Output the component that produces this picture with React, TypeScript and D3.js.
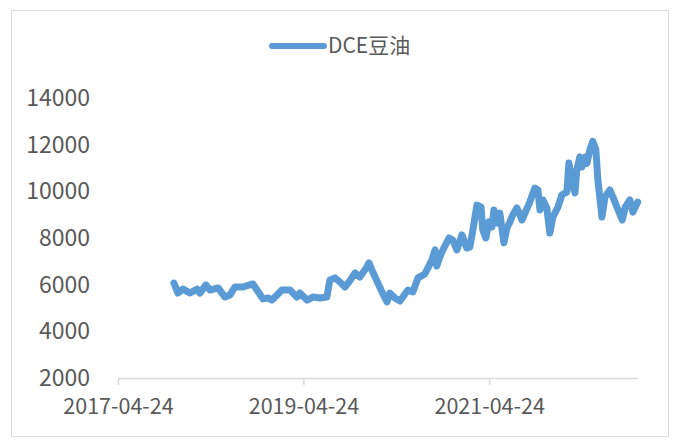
import { useEffect, useRef } from 'react';
import * as d3 from 'd3';

// DCE soybean oil
const dates = [
  '2017-11-30', '2017-12-16', '2018-01-05', '2018-02-01', '2018-03-01', '2018-03-13', '2018-04-05', '2018-04-21',
  '2018-05-23', '2018-06-19', '2018-07-09', '2018-07-28', '2018-08-29', '2018-10-07', '2018-10-23', '2018-11-16',
  '2018-12-05', '2018-12-21', '2019-01-10', '2019-01-29', '2019-03-02', '2019-03-29', '2019-04-10', '2019-05-08',
  '2019-05-31', '2019-06-28', '2019-07-25', '2019-08-06', '2019-08-26', '2019-09-15', '2019-10-04', '2019-10-20',
  '2019-11-13', '2019-12-02', '2019-12-30', '2020-01-07', '2020-01-22', '2020-02-11', '2020-02-27', '2020-03-18',
  '2020-03-29', '2020-04-18', '2020-05-08', '2020-06-08', '2020-06-28', '2020-07-18', '2020-08-14', '2020-09-11',
  '2020-09-23', '2020-09-30', '2020-10-12', '2020-10-24', '2020-11-17', '2020-12-02', '2020-12-18', '2021-01-07',
  '2021-01-26', '2021-02-07', '2021-02-19', '2021-03-07', '2021-03-23', '2021-03-30', '2021-04-11', '2021-04-23',
  '2021-05-05', '2021-05-13', '2021-05-25', '2021-06-05', '2021-06-21', '2021-07-03', '2021-07-15', '2021-07-26',
  '2021-08-11', '2021-08-19', '2021-08-31', '2021-09-12', '2021-10-01', '2021-10-21', '2021-11-02', '2021-11-10',
  '2021-11-22', '2021-12-07', '2021-12-19', '2021-12-31', '2022-01-20', '2022-02-04', '2022-02-24', '2022-03-04',
  '2022-03-16', '2022-03-28', '2022-04-04', '2022-04-16', '2022-04-24', '2022-05-08', '2022-05-14', '2022-05-26',
  '2022-06-06', '2022-06-18', '2022-06-26', '2022-07-12', '2022-07-24', '2022-08-12', '2022-08-24', '2022-09-09',
  '2022-09-30', '2022-10-12', '2022-10-30', '2022-11-11', '2022-11-30',
];
const prices = [
  6070, 5640, 5810, 5640, 5810, 5640, 5990, 5770,
  5860, 5470, 5560, 5900, 5900, 6030, 5770, 5390,
  5430, 5340, 5560, 5770, 5770, 5470, 5640, 5340,
  5470, 5430, 5470, 6200, 6290, 6110, 5900, 6110,
  6500, 6330, 6760, 6930, 6540, 6070, 5690, 5260,
  5640, 5430, 5300, 5770, 5690, 6290, 6460, 7060,
  7490, 6800, 7190, 7490, 8000, 7910, 7490, 8130,
  7570, 7610, 8340, 9410, 9330, 8340, 8000, 8690,
  8470, 9200, 8640, 9070, 7790, 8430, 8690, 8990,
  9290, 9110, 8770, 9070, 9540, 10140, 10060, 9200,
  9630, 9290, 8210, 8900, 9330, 9840, 9970, 11210,
  10440, 9930, 10900, 11480, 11040, 11470, 11200, 11800,
  12140, 11800, 10500, 8900, 9760, 10060, 9760, 9330,
  8770, 9330, 9630, 9110, 9540,
];
const yTicks = [2000, 4000, 6000, 8000, 10000, 12000, 14000];
const xTicks = ['2017-04-24', '2019-04-24', '2021-04-24'];
const seriesName = 'DCE豆油';

const parse = d3.timeParse('%Y-%m-%d');
const font = '"Noto Sans CJK SC", sans-serif';

const App = () => {
  const svgRef = useRef<SVGSVGElement>(null);

  useEffect(() => {
    const svg = d3.select(svgRef.current);
    svg.selectAll('*').remove();

    const data = dates.map((d, i) => ({ date: parse(d) as Date, value: prices[i] }));

    const x = d3.scaleTime()
      .domain([parse('2017-04-24') as Date, parse('2022-12-01') as Date])
      .range([118, 638]);
    const y = d3.scaleLinear().domain([2000, 14000]).range([378, 98]);

    // outer frame
    svg.append('rect')
      .attr('x', 11.5).attr('y', 10.5)
      .attr('width', 657).attr('height', 426)
      .attr('fill', 'white')
      .attr('stroke', '#d9d9d9');

    // y labels (no axis line)
    svg.append('g')
      .selectAll('text')
      .data(yTicks)
      .enter().append('text')
      .attr('x', 90)
      .attr('y', d => y(d))
      .attr('dy', '0.35em')
      .attr('text-anchor', 'end')
      .attr('font-family', font)
      .attr('font-size', 23)
      .attr('fill', '#595959')
      .text(d => d);

    // x axis
    const xAxis = svg.append('g')
      .attr('transform', 'translate(0,378)')
      .call(d3.axisBottom(x)
        .tickValues(xTicks.map(d => parse(d) as Date))
        .tickFormat(d3.timeFormat('%Y-%m-%d') as any)
        .tickSizeInner(7)
        .tickSizeOuter(0)
        .tickPadding(14));
    xAxis.select('.domain').attr('stroke', '#d9d9d9').attr('stroke-width', 1.5);
    xAxis.selectAll('line').attr('stroke', '#d9d9d9').attr('stroke-width', 1.5);
    xAxis.selectAll('text')
      .attr('font-family', font)
      .attr('font-size', 21.5)
      .attr('fill', '#595959');

    const line = d3.line<{ date: Date; value: number }>()
      .x(d => x(d.date))
      .y(d => y(d.value));

    svg.append('path')
      .datum(data)
      .attr('fill', 'none')
      .attr('stroke', '#5b9bd5')
      .attr('stroke-width', 7)
      .attr('stroke-linejoin', 'round')
      .attr('stroke-linecap', 'round')
      .attr('d', line);

    // legend
    const lg = svg.append('g').attr('transform', 'translate(272,46)');
    lg.append('line')
      .attr('x1', 0).attr('x2', 52)
      .attr('stroke', '#5b9bd5')
      .attr('stroke-width', 6)
      .attr('stroke-linecap', 'round');
    lg.append('text')
      .attr('x', 56)
      .attr('dy', '0.35em')
      .attr('font-family', font)
      .attr('font-size', 21)
      .attr('fill', '#595959')
      .text(seriesName);
  }, []);

  return (
    <svg
      ref={svgRef}
      width={673}
      height={441}
      style={{ position: 'absolute', left: 0, top: 0, background: 'white' }}
    />
  );
};

export default App;
